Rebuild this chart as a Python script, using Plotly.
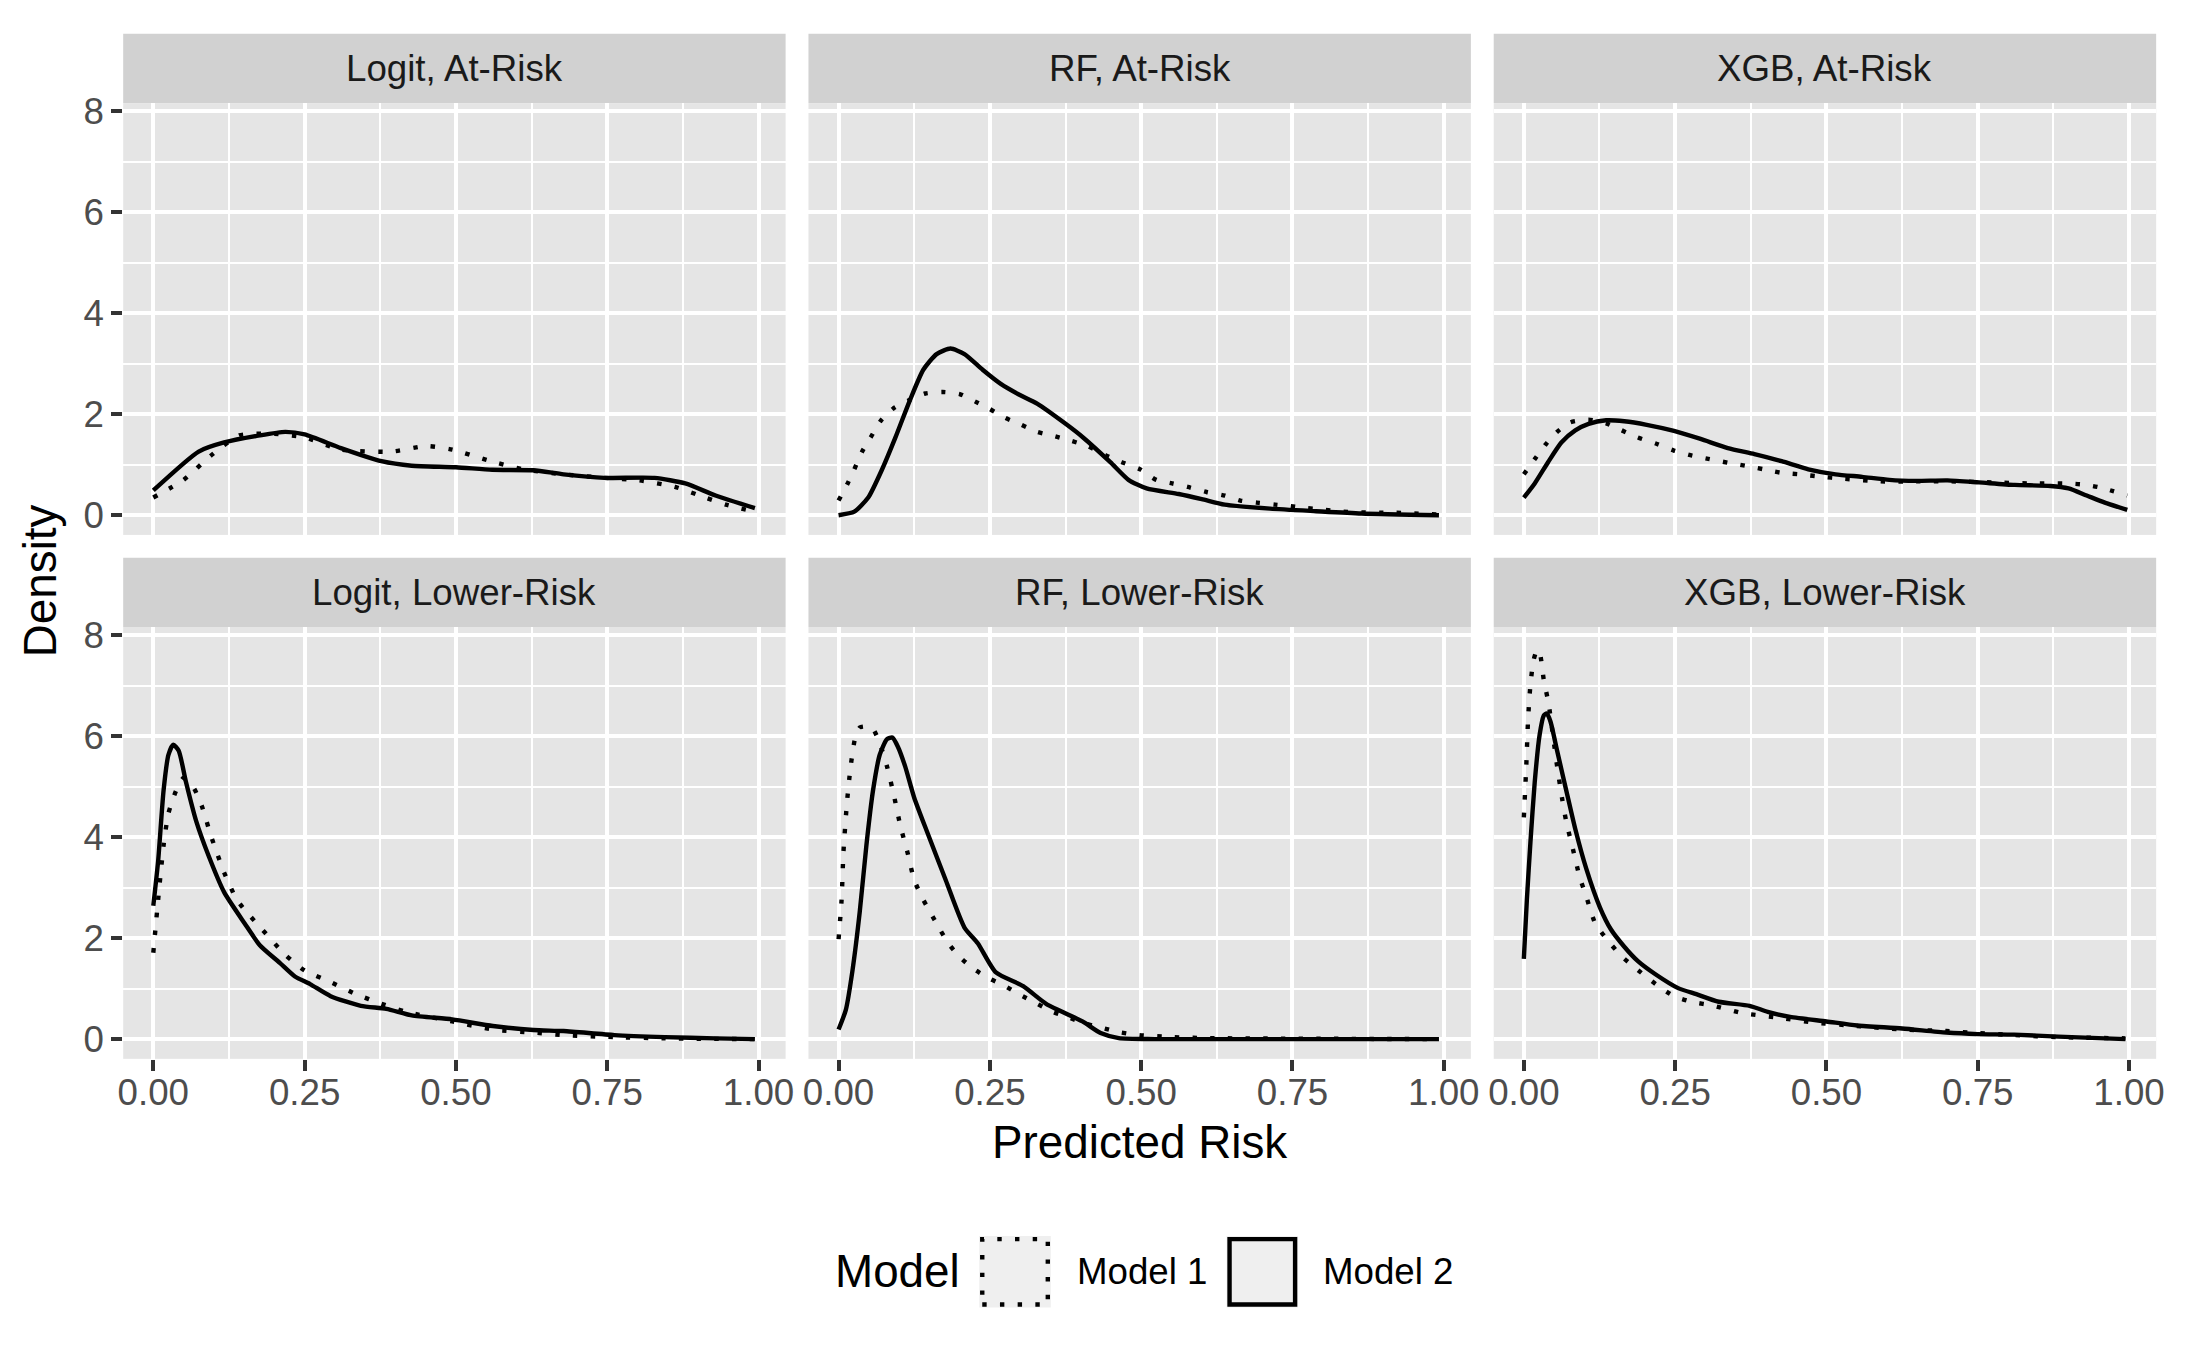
import plotly.graph_objects as go

W, H = 2187, 1351

# ---------------- data ----------------
panel_titles = ["Logit, At-Risk", "RF, At-Risk", "XGB, At-Risk",
                "Logit, Lower-Risk", "RF, Lower-Risk", "XGB, Lower-Risk"]
model_names = ["Model 1", "Model 2"]
x_ticks = [0, 0.25, 0.5, 0.75, 1.0]
x_tick_labels = ["0.00", "0.25", "0.50", "0.75", "1.00"]
x_minor = [0.125, 0.375, 0.625, 0.875]
y_ticks = [0, 2, 4, 6, 8]
y_tick_labels = ["0", "2", "4", "6", "8"]
y_minor = [1, 3, 5, 7]

# Logit, At-Risk
logit_at_m1_x = [0, 0.05, 0.096, 0.142, 0.2, 0.25, 0.31, 0.393, 0.452, 0.494, 0.552, 0.611, 0.678, 0.745, 0.803, 0.862, 0.912, 0.946, 0.994]
logit_at_m1_y = [0.35, 0.70, 1.19, 1.58, 1.61, 1.54, 1.30, 1.26, 1.37, 1.30, 1.09, 0.91, 0.81, 0.74, 0.69, 0.56, 0.35, 0.21, 0.07]
logit_at_m2_x = [0, 0.075, 0.117, 0.176, 0.218, 0.25, 0.31, 0.377, 0.427, 0.50, 0.56, 0.628, 0.678, 0.745, 0.828, 0.879, 0.929, 0.994]
logit_at_m2_y = [0.49, 1.26, 1.44, 1.58, 1.65, 1.60, 1.33, 1.07, 0.98, 0.95, 0.90, 0.89, 0.81, 0.74, 0.74, 0.63, 0.39, 0.14]

# RF, At-Risk
rf_at_m1_x = [0, 0.015, 0.026, 0.039, 0.053, 0.069, 0.09, 0.117, 0.143, 0.172, 0.2, 0.226, 0.249, 0.275, 0.302, 0.328, 0.358, 0.385, 0.411, 0.441, 0.468, 0.498, 0.525, 0.551, 0.577, 0.608, 0.638, 0.664, 0.691, 0.721, 0.747, 0.774, 0.804, 0.834, 0.864, 0.894, 0.921, 0.951, 0.992]
rf_at_m1_y = [0.29, 0.63, 0.91, 1.26, 1.54, 1.86, 2.11, 2.28, 2.41, 2.44, 2.40, 2.25, 2.11, 1.93, 1.79, 1.65, 1.56, 1.47, 1.37, 1.19, 1.05, 0.91, 0.70, 0.63, 0.56, 0.46, 0.39, 0.29, 0.25, 0.21, 0.18, 0.14, 0.105, 0.07, 0.056, 0.05, 0.05, 0.035, 0.014]
rf_at_m2_x = [0, 0.026, 0.049, 0.072, 0.094, 0.117, 0.14, 0.162, 0.185, 0.208, 0.238, 0.268, 0.298, 0.328, 0.374, 0.404, 0.449, 0.479, 0.509, 0.562, 0.6, 0.638, 0.713, 0.789, 0.864, 0.992]
rf_at_m2_y = [0.0, 0.07, 0.35, 0.91, 1.54, 2.25, 2.88, 3.19, 3.30, 3.19, 2.88, 2.60, 2.39, 2.21, 1.82, 1.54, 1.05, 0.70, 0.53, 0.42, 0.32, 0.21, 0.13, 0.08, 0.035, 0.0]

# XGB, At-Risk
xgb_at_m1_x = [0, 0.018, 0.036, 0.055, 0.077, 0.107, 0.136, 0.162, 0.188, 0.218, 0.248, 0.278, 0.307, 0.337, 0.366, 0.396, 0.426, 0.455, 0.485, 0.53, 0.589, 0.648, 0.707, 0.774, 0.833, 0.893, 0.923, 0.952, 0.997]
xgb_at_m1_y = [0.81, 1.11, 1.40, 1.65, 1.84, 1.89, 1.82, 1.68, 1.54, 1.42, 1.28, 1.18, 1.11, 1.04, 0.98, 0.91, 0.84, 0.81, 0.77, 0.72, 0.67, 0.67, 0.67, 0.65, 0.63, 0.63, 0.61, 0.55, 0.39]
xgb_at_m2_x = [0, 0.018, 0.04, 0.062, 0.085, 0.107, 0.136, 0.166, 0.203, 0.248, 0.292, 0.337, 0.381, 0.426, 0.47, 0.515, 0.559, 0.604, 0.648, 0.7, 0.752, 0.811, 0.87, 0.9, 0.93, 0.96, 0.997]
xgb_at_m2_y = [0.35, 0.63, 1.05, 1.44, 1.68, 1.81, 1.88, 1.86, 1.79, 1.67, 1.51, 1.33, 1.21, 1.07, 0.91, 0.81, 0.76, 0.70, 0.68, 0.69, 0.65, 0.60, 0.58, 0.53, 0.39, 0.25, 0.105]

# Logit, Lower-Risk
logit_low_m1_x = [0, 0.008, 0.017, 0.025, 0.038, 0.05, 0.067, 0.08, 0.096, 0.117, 0.138, 0.159, 0.18, 0.218, 0.25, 0.293, 0.335, 0.377, 0.418, 0.494, 0.561, 0.628, 0.678, 0.762, 0.845, 0.994]
logit_low_m1_y = [1.71, 2.76, 3.84, 4.47, 4.93, 5.17, 4.97, 4.62, 4.00, 3.30, 2.76, 2.45, 2.17, 1.67, 1.36, 1.13, 0.89, 0.70, 0.54, 0.35, 0.19, 0.13, 0.08, 0.04, 0.015, 0.0]
logit_low_m2_x = [0, 0.008, 0.017, 0.025, 0.033, 0.042, 0.054, 0.071, 0.092, 0.117, 0.151, 0.176, 0.209, 0.234, 0.259, 0.293, 0.343, 0.385, 0.427, 0.494, 0.561, 0.628, 0.678, 0.762, 0.845, 0.929, 0.994]
logit_low_m2_y = [2.64, 3.53, 4.93, 5.63, 5.83, 5.71, 5.09, 4.31, 3.61, 2.91, 2.29, 1.86, 1.51, 1.24, 1.09, 0.85, 0.66, 0.60, 0.47, 0.39, 0.26, 0.18, 0.16, 0.08, 0.04, 0.015, 0.0]

# RF, Lower-Risk
rf_low_m1_x = [0, 0.005, 0.008, 0.014, 0.02, 0.027, 0.035, 0.046, 0.057, 0.068, 0.08, 0.091, 0.102, 0.114, 0.125, 0.14, 0.162, 0.181, 0.2, 0.222, 0.249, 0.275, 0.298, 0.328, 0.354, 0.38, 0.407, 0.433, 0.463, 0.497, 0.553, 0.613, 0.992]
rf_low_m1_y = [1.98, 2.76, 3.69, 4.70, 5.40, 5.94, 6.17, 6.19, 6.14, 5.86, 5.40, 4.85, 4.23, 3.69, 3.15, 2.76, 2.29, 1.90, 1.63, 1.40, 1.20, 1.05, 0.89, 0.70, 0.54, 0.43, 0.31, 0.23, 0.14, 0.08, 0.04, 0.02, 0.0]
rf_low_m2_x = [0, 0.012, 0.023, 0.035, 0.046, 0.057, 0.068, 0.08, 0.089, 0.098, 0.11, 0.125, 0.147, 0.177, 0.208, 0.23, 0.26, 0.305, 0.343, 0.403, 0.433, 0.463, 0.523, 0.992]
rf_low_m2_y = [0.19, 0.58, 1.36, 2.52, 3.84, 4.93, 5.63, 5.94, 5.97, 5.79, 5.40, 4.78, 4.08, 3.15, 2.21, 1.90, 1.32, 1.05, 0.70, 0.35, 0.12, 0.02, 0.0, 0.0]

# XGB, Lower-Risk
xgb_low_m1_x = [0, 0.004, 0.007, 0.011, 0.016, 0.022, 0.027, 0.033, 0.041, 0.048, 0.055, 0.063, 0.07, 0.081, 0.092, 0.103, 0.118, 0.137, 0.159, 0.181, 0.218, 0.248, 0.277, 0.314, 0.359, 0.418, 0.477, 0.551, 0.625, 0.698, 0.75, 0.81, 0.883, 0.994]
xgb_low_m1_y = [4.39, 5.40, 6.33, 7.03, 7.50, 7.71, 7.61, 7.11, 6.64, 6.02, 5.40, 4.78, 4.31, 3.77, 3.22, 2.83, 2.29, 1.98, 1.67, 1.44, 1.09, 0.85, 0.74, 0.66, 0.52, 0.43, 0.33, 0.26, 0.19, 0.16, 0.12, 0.08, 0.04, 0.015]
xgb_low_m2_x = [0, 0.005, 0.011, 0.018, 0.026, 0.033, 0.038, 0.044, 0.055, 0.07, 0.085, 0.103, 0.126, 0.144, 0.166, 0.188, 0.218, 0.255, 0.285, 0.322, 0.373, 0.403, 0.44, 0.5, 0.551, 0.625, 0.698, 0.75, 0.81, 0.883, 0.994]
xgb_low_m2_y = [1.59, 2.76, 3.92, 5.09, 6.02, 6.41, 6.45, 6.29, 5.71, 4.93, 4.16, 3.38, 2.60, 2.17, 1.83, 1.55, 1.28, 1.01, 0.89, 0.74, 0.66, 0.54, 0.44, 0.35, 0.27, 0.21, 0.13, 0.10, 0.09, 0.05, 0.0]

curves = [
    (logit_at_m1_x, logit_at_m1_y, logit_at_m2_x, logit_at_m2_y),
    (rf_at_m1_x, rf_at_m1_y, rf_at_m2_x, rf_at_m2_y),
    (xgb_at_m1_x, xgb_at_m1_y, xgb_at_m2_x, xgb_at_m2_y),
    (logit_low_m1_x, logit_low_m1_y, logit_low_m2_x, logit_low_m2_y),
    (rf_low_m1_x, rf_low_m1_y, rf_low_m2_x, rf_low_m2_y),
    (xgb_low_m1_x, xgb_low_m1_y, xgb_low_m2_x, xgb_low_m2_y),
]

# ---------------- styling / layout ----------------
FONT = "Liberation Sans, Arial, Helvetica, sans-serif"
PANEL_BG = "#E5E5E5"
STRIP_BG = "#D1D1D1"
KEY_BG = "#EFEFEF"
LW = 4.4
DOT = "4.4px,13.3px"


def px(x):
    return x / W


def py(y):
    return 1 - y / H


col_px = [(118, 785), (808, 1475), (1498, 2165)]
row_px = [(92, 528), (621, 1057)]  # panel top, bottom
strip_h = 70

fig = go.Figure()
shapes = []
annotations = []

for i, title in enumerate(panel_titles):
    r, c = divmod(i, 3)
    ax = "" if i == 0 else str(i + 1)
    m1x, m1y, m2x, m2y = curves[i]
    fig.add_trace(go.Scatter(x=m1x, y=m1y, mode="lines", name=model_names[0],
                             line=dict(color="black", width=LW, dash=DOT, shape="spline", smoothing=0.6),
                             xaxis="x" + ax, yaxis="y" + ax, showlegend=False, hoverinfo="skip"))
    fig.add_trace(go.Scatter(x=m2x, y=m2y, mode="lines", name=model_names[1],
                             line=dict(color="black", width=LW, shape="spline", smoothing=0.6),
                             xaxis="x" + ax, yaxis="y" + ax, showlegend=False, hoverinfo="skip"))

    x0, x1 = col_px[c]
    top, bot = row_px[r]
    xdom = [px(x0), px(x1)]
    ydom = [py(bot), py(top)]
    bottom_row = (r == 1)
    left_col = (c == 0)

    fig.layout["xaxis" + ax] = dict(
        domain=xdom, anchor="y" + ax, range=[-0.04975, 1.04475],
        tickvals=x_ticks, ticktext=x_tick_labels,
        showgrid=True, gridcolor="white", gridwidth=LW,
        minor=dict(tickvals=x_minor, showgrid=True, gridcolor="white", gridwidth=LW / 2, ticks=""),
        zeroline=False, showline=False,
        ticks="outside" if bottom_row else "", ticklen=11, tickwidth=LW, tickcolor="#333333",
        showticklabels=bottom_row, ticklabelstandoff=-10,
        tickfont=dict(family=FONT, size=36.7, color="#4D4D4D"),
        fixedrange=True,
    )
    fig.layout["yaxis" + ax] = dict(
        domain=ydom, anchor="x" + ax, range=[-0.39, 8.16],
        tickvals=y_ticks, ticktext=y_tick_labels,
        showgrid=True, gridcolor="white", gridwidth=LW,
        minor=dict(tickvals=y_minor, showgrid=True, gridcolor="white", gridwidth=LW / 2, ticks=""),
        zeroline=False, showline=False,
        ticks="outside" if left_col else "", ticklen=11, tickwidth=LW, tickcolor="#333333",
        showticklabels=left_col,
        tickfont=dict(family=FONT, size=36.7, color="#4D4D4D"),
        fixedrange=True,
    )

    # strip
    shapes.append(dict(type="rect", xref="paper", yref="paper",
                       x0=px(x0), x1=px(x1), y0=py(top), y1=py(top - strip_h),
                       fillcolor=STRIP_BG, line=dict(width=0), layer="below"))
    annotations.append(dict(text=title, xref="paper", yref="paper",
                            x=px((x0 + x1) / 2), y=py(top - strip_h / 2),
                            xanchor="center", yanchor="middle", showarrow=False,
                            font=dict(family=FONT, size=36.7, color="#1A1A1A")))

# axis titles
annotations.append(dict(text="Predicted Risk", xref="paper", yref="paper",
                        x=px(1141.5), y=py(1141), xanchor="center", yanchor="middle",
                        showarrow=False, font=dict(family=FONT, size=45.8, color="black")))
annotations.append(dict(text="Density", xref="paper", yref="paper",
                        x=px(35), y=py(574), xanchor="center", yanchor="middle", textangle=-90,
                        showarrow=False, font=dict(family=FONT, size=45.8, color="black")))

# legend (drawn manually to mimic ggplot key boxes)
annotations.append(dict(text="Model", xref="paper", yref="paper",
                        x=px(833), y=py(1272), xanchor="left", yanchor="middle",
                        showarrow=False, font=dict(family=FONT, size=45.8, color="black")))
key_boxes = [(980, 1052), (1229, 1301)]
label_x = [1076, 1324]
for k, name in enumerate(model_names):
    kx0, kx1 = key_boxes[k]
    shapes.append(dict(type="rect", xref="paper", yref="paper",
                       x0=px(kx0), x1=px(kx1), y0=py(1308), y1=py(1236),
                       fillcolor=KEY_BG, line=dict(width=0)))
    shapes.append(dict(type="rect", xref="paper", yref="paper",
                       x0=px(kx0 + 3), x1=px(kx1 - 3), y0=py(1305), y1=py(1239),
                       fillcolor="rgba(0,0,0,0)",
                       line=dict(color="black", width=LW, dash=DOT if k == 0 else "solid")))
    annotations.append(dict(text=name, xref="paper", yref="paper",
                            x=px(label_x[k]), y=py(1272), xanchor="left", yanchor="middle",
                            showarrow=False, font=dict(family=FONT, size=36.7, color="black")))

fig.update_layout(
    width=W, height=H,
    margin=dict(l=0, r=0, t=0, b=0),
    paper_bgcolor="white", plot_bgcolor=PANEL_BG,
    shapes=shapes, annotations=annotations,
    showlegend=False,
    font=dict(family=FONT, color="black"),
)

fig.write_html("out.html", config={"displayModeBar": False},
               post_script="document.body.style.margin='0px';document.body.style.overflow='hidden';")
